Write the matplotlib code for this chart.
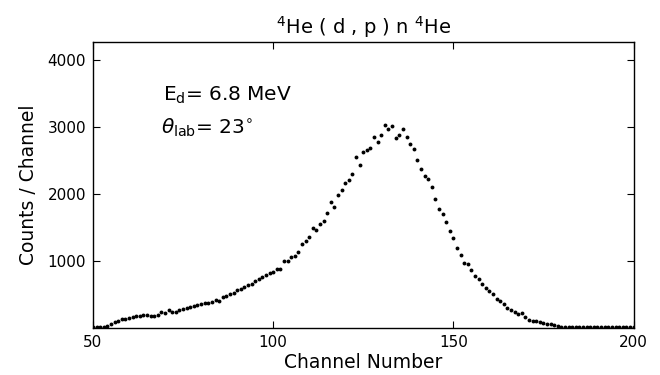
import numpy as np
import matplotlib
matplotlib.use("Agg")
import matplotlib.pyplot as plt

# counts per channel, channels 50..200
channels = np.arange(50, 201)
counts = [
    10, 10, 10, 15, 30, 55, 85, 105, 130, 137,          # 50-59
    145, 170, 184, 184, 188, 190, 180, 184, 200, 234,   # 60-69
    226, 265, 240, 246, 262, 280, 300, 309, 324, 338,   # 70-79
    355, 380, 375, 395, 425, 405, 460, 485, 510, 528,   # 80-89
    567, 585, 610, 635, 662, 700, 725, 755, 785, 815,   # 90-99
    840, 880, 880, 995, 995, 1064, 1075, 1130, 1254, 1303,      # 100-109
    1363, 1493, 1467, 1557, 1597, 1712, 1880, 1806, 1980, 2060, # 110-119
    2160, 2204, 2299, 2548, 2428, 2627, 2652, 2691, 2846, 2776, # 120-129
    2876, 3030, 2975, 3020, 2836, 2876, 2966, 2855, 2751, 2672, # 130-139
    2512, 2369, 2264, 2228, 2100, 1930, 1772, 1701, 1587, 1443, # 140-149
    1348, 1187, 1090, 975, 960, 866, 780, 725, 660, 595,        # 150-159
    555, 505, 438, 410, 358, 300, 265, 235, 215, 219,           # 160-169
    170, 125, 109, 100, 88, 72, 58, 64, 45, 32,                 # 170-179
    20, 15, 18, 12, 20, 15, 22, 18, 15, 20,                     # 180-189
    18, 15, 22, 18, 15, 12, 18, 15, 12, 15, 12,                 # 190-200
]

xticks = [50, 100, 150, 200]
yticks = [1000, 2000, 3000, 4000]

fig = plt.figure(figsize=(6.6, 3.75), dpi=100)
ax = fig.add_axes([0.1409, 0.1253, 0.819, 0.762])

ax.plot(channels, counts, linestyle="none", marker="o", markersize=2.8,
        color="black", markeredgewidth=0)

ax.set_xlim(50, 200)
ax.set_ylim(0, 4265)
ax.set_xticks(xticks)
ax.set_yticks(yticks)
ax.tick_params(direction="in", top=True, right=True, length=5, width=0.8,
               labelsize=11, pad=5)
for s in ax.spines.values():
    s.set_linewidth(1.0)

ax.set_xlabel("Channel Number", fontsize=13.5, labelpad=2)
ax.set_ylabel("Counts / Channel", fontsize=13.5, labelpad=7)
ax.set_title(r"$^4$He ( d , p ) n $^4$He", fontsize=14, pad=6)

ax.text(69.5, 3480, r"E$_{\rm d}$= 6.8 MeV", fontsize=14.5, va="center")
ax.text(69.0, 2990, r"$\theta_{\rm lab}$= 23$^{\circ}$", fontsize=14.5, va="center")

fig.savefig("out.png", dpi=100)
